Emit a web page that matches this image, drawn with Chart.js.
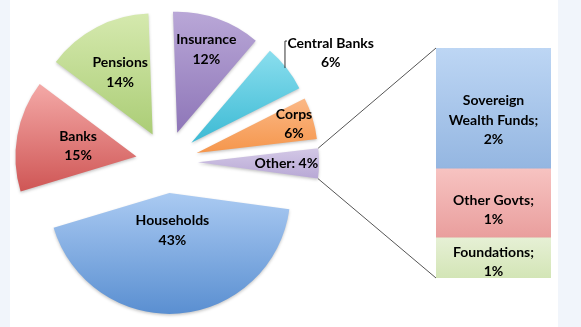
<!DOCTYPE html>
<html>
<head>
<meta charset="utf-8">
<script src="https://cdn.jsdelivr.net/npm/chart.js@4.4.1/dist/chart.umd.min.js"></script>
<style>
  html, body { margin: 0; padding: 0; }
  body { width: 581px; height: 327px; background: #f1f5fb; position: relative; overflow: hidden; }
  #panel { position: absolute; left: 10px; top: 0; width: 548px; height: 327px; background: #fff; }
  canvas { position: absolute; left: 0; top: 0; }
</style>
</head>
<body>
<div id="panel"></div>
<canvas id="pie" width="581" height="327"></canvas>
<canvas id="bar" width="581" height="327"></canvas>
<script>
// holders, clockwise from 12 o'clock
const sectors = ['Insurance', 'Central Banks', 'Corps', 'Other', 'Households', 'Banks', 'Pensions'];
const shares = [11.8, 6.3, 5.6, 4.0, 43.2, 14.9, 14.2];

// breakdown of "Other", top to bottom
const otherParts = ['Sovereign Wealth Funds', 'Other Govts', 'Foundations'];
const otherShares = [2.1, 1.2, 0.7];

// styles
const pieTop = ['#b9a7d7', '#8adeee', '#fbb886', '#d3c8e6', '#aacaf2', '#f4a9a7', '#d5e9ae'];
const pieBottom = ['#8e76b8', '#3cbad4', '#f5964c', '#b8a8d5', '#5a8fd1', '#cf5655', '#abcd76'];
const labelDist = [0.73, 0, 0.84, 0.73, 0.31, 0.49, 0.58]; // 0 = outside with leader
const barTop = ['#bdd6f4', '#f7c3c1', '#e6f0d5'];
const barBottom = ['#94b6e1', '#e99e9d', '#d3e5b6'];

const FONT = 'bold 14px Lato';
const LINE = 19.5;
const EXPLODE = 31;
const otherIndex = sectors.indexOf('Other');

function pct(v) { return Math.round(v) + '%'; }

function wrap(ctx, text, maxW) {
  const words = text.split(' ');
  let lines = [], cur = '';
  words.forEach(w => {
    const t = cur ? cur + ' ' + w : w;
    if (cur && ctx.measureText(t).width > maxW) { lines.push(cur); cur = w; } else cur = t;
  });
  lines.push(cur);
  return lines;
}

function drawLines(ctx, lines, x, yc) {
  const y0 = yc - (lines.length - 1) * LINE / 2;
  lines.forEach((l, i) => ctx.fillText(l, x, y0 + i * LINE));
}

// explode every slice and give it a top-to-bottom gradient
const explodePlugin = {
  id: 'explode',
  afterDatasetsUpdate(chart) {
    const ctx = chart.ctx;
    chart.getDatasetMeta(0).data.forEach((arc, i) => {
      const mid = (arc.startAngle + arc.endAngle) / 2;
      arc.x += Math.cos(mid) * EXPLODE;
      arc.y += Math.sin(mid) * EXPLODE;
      let ys = [arc.y, arc.y + arc.outerRadius * Math.sin(arc.startAngle), arc.y + arc.outerRadius * Math.sin(arc.endAngle)];
      [-Math.PI / 2, Math.PI / 2, 1.5 * Math.PI].forEach(a => {
        if (a > arc.startAngle && a < arc.endAngle) ys.push(arc.y + arc.outerRadius * Math.sin(a));
      });
      const g = ctx.createLinearGradient(0, Math.min(...ys), 0, Math.max(...ys));
      g.addColorStop(0, pieTop[i]);
      g.addColorStop(1, pieBottom[i]);
      arc.options.backgroundColor = g;
    });
  },
  beforeDatasetsDraw(chart) {
    const ctx = chart.ctx;
    ctx.save();
    ctx.shadowColor = 'rgba(0,0,0,0.22)';
    ctx.shadowBlur = 3;
    ctx.shadowOffsetY = 1.5;
  },
  afterDatasetsDraw(chart) {
    chart.ctx.restore();
  },
  afterDraw(chart) {
    const ctx = chart.ctx;
    ctx.save();
    ctx.font = FONT;
    ctx.fillStyle = '#000';
    ctx.textBaseline = 'middle';
    chart.getDatasetMeta(0).data.forEach((arc, i) => {
      const mid = (arc.startAngle + arc.endAngle) / 2;
      const r = arc.outerRadius;
      const v = shares[i];
      if (labelDist[i] === 0) {
        // outside label with a leader line going up from the rim
        const px = arc.x + Math.cos(mid) * r, py = arc.y + Math.sin(mid) * r;
        const w = ctx.measureText(sectors[i]).width;
        ctx.strokeStyle = '#333';
        ctx.lineWidth = 1;
        ctx.beginPath();
        ctx.moveTo(px - 1.5, py);
        ctx.lineTo(px - 1.5, py - 27);
        ctx.lineTo(px + 0.5, py - 27);
        ctx.stroke();
        ctx.textAlign = 'center';
        drawLines(ctx, [sectors[i], pct(v)], px + 1 + w / 2, py - 15);
      } else {
        const lx = arc.x + Math.cos(mid) * r * labelDist[i];
        const ly = arc.y + Math.sin(mid) * r * labelDist[i];
        ctx.textAlign = 'center';
        const lines = i === otherIndex ? [sectors[i] + ': ' + pct(v)] : [sectors[i], pct(v)];
        drawLines(ctx, lines, lx, ly);
      }
    });
    ctx.restore();
  }
};

const pieChart = new Chart(document.getElementById('pie'), {
  type: 'pie',
  data: {
    labels: sectors,
    datasets: [{ data: shares, backgroundColor: pieTop, borderWidth: 0 }]
  },
  options: {
    responsive: false,
    animation: false,
    events: [],
    rotation: -2,
    radius: 121,
    layout: { padding: { left: 0, right: 247, top: 0, bottom: 3 } },
    plugins: { legend: { display: false }, tooltip: { enabled: false } }
  },
  plugins: [explodePlugin]
});

// stacked bar for the "Other" breakdown, plus connector lines
const barPlugin = {
  id: 'barDecor',
  afterDatasetsUpdate(chart) {
    const ctx = chart.ctx;
    chart.data.datasets.forEach((ds, d) => {
      const k = ds.partIndex;
      const el = chart.getDatasetMeta(d).data[0];
      const g = ctx.createLinearGradient(0, el.y, 0, el.base);
      g.addColorStop(0, barTop[k]);
      g.addColorStop(1, barBottom[k]);
      el.options.backgroundColor = g;
    });
  },
  beforeDatasetsDraw(chart) {
    const ctx = chart.ctx;
    const n = chart.data.datasets.length;
    const topEl = chart.getDatasetMeta(n - 1).data[0];
    const botEl = chart.getDatasetMeta(0).data[0];
    const left = topEl.x - topEl.width / 2;
    const arc = pieChart.getDatasetMeta(0).data[otherIndex];
    const r = arc.outerRadius;
    ctx.save();
    ctx.strokeStyle = '#555';
    ctx.lineWidth = 1;
    ctx.beginPath();
    ctx.moveTo(arc.x + r * Math.cos(arc.startAngle), arc.y + r * Math.sin(arc.startAngle));
    ctx.lineTo(left, topEl.y);
    ctx.moveTo(arc.x + r * Math.cos(arc.endAngle), arc.y + r * Math.sin(arc.endAngle));
    ctx.lineTo(left, botEl.base);
    ctx.stroke();
    ctx.shadowColor = 'rgba(0,0,0,0.2)';
    ctx.shadowBlur = 3;
    ctx.shadowOffsetY = 1.5;
  },
  afterDatasetsDraw(chart) {
    const ctx = chart.ctx;
    ctx.restore();
    ctx.save();
    ctx.font = FONT;
    ctx.fillStyle = '#000';
    ctx.textAlign = 'center';
    ctx.textBaseline = 'middle';
    chart.data.datasets.forEach((ds, d) => {
      const k = ds.partIndex;
      const el = chart.getDatasetMeta(d).data[0];
      const h = el.base - el.y;
      const lines = wrap(ctx, otherParts[k] + ';', el.width - 8).concat(pct(otherShares[k]));
      drawLines(ctx, lines, el.x, el.y + h / 2 + h * 0.1);
    });
    ctx.restore();
  }
};

const total = otherShares.reduce((a, b) => a + b, 0);
const barSets = otherParts.map((name, k) => ({
  label: name,
  partIndex: k,
  data: [otherShares[k]],
  backgroundColor: [barTop[k]],
  borderWidth: 0,
  barPercentage: 1,
  categoryPercentage: 1
})).reverse(); // first dataset sits at the bottom of the stack

new Chart(document.getElementById('bar'), {
  type: 'bar',
  data: { labels: ['Other'], datasets: barSets },
  options: {
    responsive: false,
    animation: false,
    events: [],
    layout: { padding: { left: 436, right: 30, top: 48, bottom: 49 } },
    scales: {
      x: { display: false, stacked: true },
      y: { display: false, stacked: true, min: 0, max: total }
    },
    plugins: { legend: { display: false }, tooltip: { enabled: false } }
  },
  plugins: [barPlugin]
});
</script>
</body>
</html>
